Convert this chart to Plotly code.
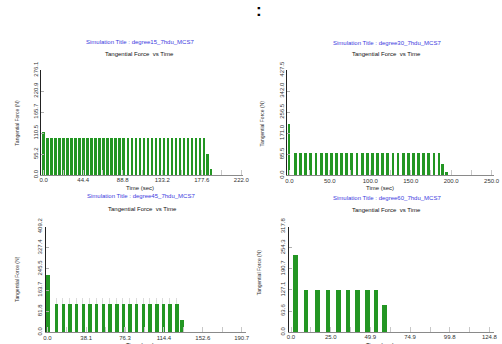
import plotly.graph_objects as go

W, H = 502, 344

# ---------------- data ----------------
titles = ["Simulation Title : degree15_7hdu_MCS7", "Simulation Title : degree30_7hdu_MCS7",
          "Simulation Title : degree45_7hdu_MCS7", "Simulation Title : degree60_7hdu_MCS7"]

t15 = [0.0, 5.0, 9.5, 14.0, 18.5, 23.0, 27.5, 32.0, 36.5, 41.0, 45.5, 50.0, 54.5, 59.0, 63.5,
       68.0, 72.5, 77.0, 81.5, 86.0, 90.5, 95.0, 99.5, 104.0, 108.5, 113.0, 117.5, 122.0,
       126.5, 131.0, 135.5, 140.0, 144.5, 149.0, 153.5, 158.0, 162.5, 167.0, 171.5, 176.0,
       180.5, 184.5, 188.5]
f15 = [112, 96, 96, 96, 96, 96, 96, 96, 96, 96, 96, 96, 96, 96, 96, 96, 96, 96, 96, 96, 96,
       96, 96, 96, 96, 96, 96, 96, 96, 96, 96, 96, 96, 96, 96, 96, 96, 96, 96, 96, 96, 54, 16]
xt15 = [0.0, 44.4, 88.8, 133.2, 177.6, 222.0]
yt15 = [0.0, 55.2, 110.5, 165.7, 220.9, 276.1]

t30 = [0.0, 8.0, 14.3, 20.7, 27.0, 33.4, 39.7, 46.0, 52.4, 58.7, 65.1, 71.4, 77.7, 84.1, 90.4,
       96.8, 103.1, 109.4, 115.8, 122.1, 128.5, 134.8, 141.1, 147.5, 153.8, 160.2, 166.5,
       172.8, 179.2, 185.5, 189.5, 194.5]
f30 = [208, 90, 90, 90, 90, 90, 90, 90, 90, 90, 90, 90, 90, 90, 90, 90, 90, 90, 90, 90, 90,
       90, 90, 90, 90, 90, 90, 90, 90, 90, 48, 12]
xt30 = [0.0, 50.0, 100.0, 150.0, 200.0, 250.0]
yt30 = [0.0, 85.5, 171.0, 256.5, 342.0, 427.5]

t45 = [0.0, 8.7, 15.3, 21.8, 28.4, 34.9, 41.5, 48.0, 54.6, 61.1, 67.7, 74.2, 80.8, 87.3, 93.9,
       100.4, 107.0, 113.5, 120.1, 126.6, 132.0]
f45 = [225, 111, 111, 111, 111, 111, 111, 111, 111, 111, 111, 111, 111, 111, 111, 111, 111,
       111, 111, 111, 50]
peak45 = [0, 21, 21, 21, 21, 21, 21, 21, 21, 21, 21, 21, 21, 21, 21, 21, 21, 21, 21, 21, 0]
xt45 = [0.0, 38.1, 76.3, 114.4, 152.6, 190.7]
yt45 = [0.0, 81.8, 163.7, 245.5, 327.4, 409.2]

t60 = [2.7, 9.3, 16.5, 23.1, 29.7, 35.7, 41.7, 47.7, 53.3, 58.4]
f60 = [232, 128, 128, 128, 128, 128, 128, 128, 128, 84]
xt60 = [0.0, 25.0, 49.9, 74.9, 99.8, 124.8]
yt60 = [0.0, 63.6, 127.1, 190.7, 254.3, 317.8]

# ---------------- layout helpers ----------------
def fx(p):
    return p / W

def fy(p):
    return 1 - p / H

FONT = "Liberation Sans, Arial, sans-serif"
GREEN = "#239623"
BLUE = "#3b3be0"

panels = [
    dict(x=t15, y=f15, xt=xt15, yt=yt15, px=(40, 245), py=(63.3, 172.0), xr=[-2.5, 224.0], w=3.0),
    dict(x=t30, y=f30, xt=xt30, yt=yt30, px=(290, 500), py=(63.3, 172.5), xr=[-2.5, 253.0], w=3.4),
    dict(x=t45, y=f45, xt=xt45, yt=yt45, px=(44.3, 248), py=(225.5, 335.0), xr=[-1.7, 195.0], w=3.5),
    dict(x=t60, y=f60, xt=xt60, yt=yt60, px=(291.3, 500), py=(225.5, 334.8), xr=[-1.5, 127.7], w=2.9),
]

fig = go.Figure()
layout = {}
for i, p in enumerate(panels):
    n = "" if i == 0 else str(i + 1)
    err = None
    if i == 2:
        err = dict(type="data", array=peak45, arrayminus=[0] * len(peak45), symmetric=False,
                   color="#d4d4d4", thickness=0.8, width=0)
    fig.add_trace(go.Bar(x=p["x"], y=p["y"], width=p["w"], marker=dict(color=GREEN, line=dict(width=0)),
                         error_y=err, xaxis="x" + n, yaxis="y" + n, showlegend=False))
    layout["xaxis" + n] = dict(
        domain=[fx(p["px"][0]), fx(p["px"][1])], range=p["xr"], anchor="y" + n,
        tickvals=p["xt"], ticktext=["%.1f" % v for v in p["xt"]],
        showline=True, linecolor="#8a8a8a", linewidth=1, showgrid=False, zeroline=False,
        ticks="inside", ticklen=5, tickcolor="#c8c8c8", tickwidth=1, ticklabelstandoff=-1,
        minor=dict(ticks="inside", ticklen=5, tickcolor="#c8c8c8", dtick=(p["xt"][1] - p["xt"][0]) / 2,
                   tick0=0, showgrid=False),
        tickfont=dict(family=FONT, size=6, color="#333333"), fixedrange=True,
    )
    layout["yaxis" + n] = dict(
        domain=[fy(p["py"][1]), fy(p["py"][0])], range=[0, p["yt"][-1]], anchor="x" + n,
        tickvals=p["yt"], ticktext=["%.1f" % v for v in p["yt"]], tickangle=-90,
        showline=True, linecolor="#222222", linewidth=1, showgrid=False, zeroline=False,
        ticks="inside", ticklen=3, tickcolor="#b0b0b0",
        tickfont=dict(family=FONT, size=6, color="#333333"), fixedrange=True,
    )

ann = []
blue_pos = [(140, 34.5), (391, 35), (141.7, 194.0), (391, 196.0)]
black_pos = [(140, 46.5), (390.3, 47), (142.7, 207.5), (390.3, 208.5)]
ytitle_pos = [(15, 118), (263.7, 118), (15, 280), (262, 273)]
xtitle_pos = [(140, 185.5), (383.7, 185.5), (140, 348.0), (384, 348.0)]


def note(text, pos, size, color, angle=0):
    return dict(text=text, x=fx(pos[0]), y=fy(pos[1]), xref="paper", yref="paper",
                xanchor="center", yanchor="middle", textangle=angle, showarrow=False,
                font=dict(family=FONT, size=size, color=color))


for i in range(4):
    ann.append(note(titles[i], blue_pos[i], 6, BLUE))
    ann.append(note("Tangential Force  vs Time", black_pos[i], 6, "#111111"))
    ann.append(note("Tangential Force (N)", ytitle_pos[i], 5, "#333333", -90))
    ann.append(note("Time (sec)", xtitle_pos[i], 6, "#222222"))
ann.append(note("<b>:</b>", (261, 2.0), 17, "#000000"))

fig.update_layout(
    width=W, height=H, margin=dict(l=0, r=0, t=0, b=0),
    paper_bgcolor="white", plot_bgcolor="white", annotations=ann, bargap=0,
    **layout,
)
fig.write_html("out.html", config=dict(displayModeBar=False),
               post_script="document.body.style.margin='0';document.body.style.overflow='hidden';")
